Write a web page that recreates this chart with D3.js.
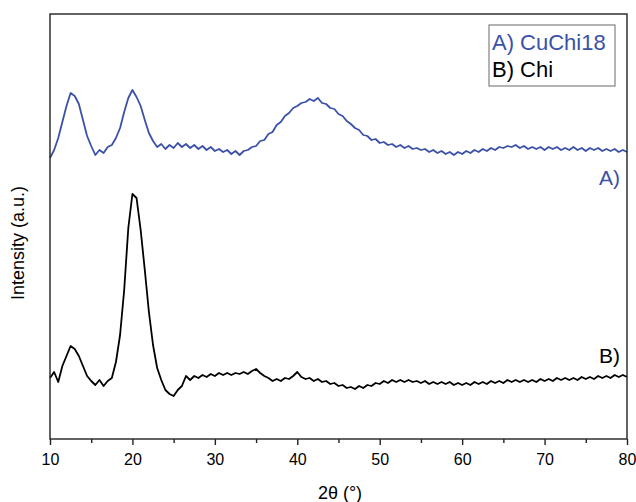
<!DOCTYPE html>
<html>
<head>
<meta charset="utf-8">
<script src="https://cdn.jsdelivr.net/npm/d3@7"></script>
<style>
  body { margin: 0; background: #fff; }
  text { font-family: "Liberation Sans", Arial, sans-serif; }
</style>
</head>
<body>
<div id="chart"></div>
<script>
// 2-theta grid (0.5 deg steps, 10 -> 80)
var twoTheta = d3.range(10, 80.001, 0.5);

// A) CuChi18 intensity (a.u., read off the picture)
var cuChi18 = [281,289,301,317,333,346,343,335,319,303,293,284,289,286,292,294,301,311,327,341,
  349,342,333,319,306,298,292,295,290,294,291,296,292,295,291,294,290,293,289,292,
  288,290,287,289,285,288,284,288,289,292,293,298,299,305,307,314,317,323,326,331,
  333,336,337,340,338,341,336,335,331,330,325,323,318,315,311,309,304,303,299,300,
  296,297,294,295,292,294,291,293,290,291,289,290,287,289,286,288,285,287,284,287,
  285,288,286,289,287,290,288,291,289,292,291,293,292,294,291,293,290,292,290,292,
  289,292,290,292,289,291,289,292,289,291,288,291,289,291,288,290,288,290,287,289,287];

// B) Chi intensity
var chi = [61,67,57,73,83,93,90,83,73,63,58,54,59,53,58,61,77,104,149,211,
  245,241,209,169,127,94,71,59,49,45,43,49,53,63,59,63,61,64,62,65,
  63,66,64,66,64,66,65,67,65,68,70,66,63,61,58,60,58,61,60,63,
  67,62,60,61,58,60,57,58,55,56,53,54,51,52,50,53,51,54,53,56,
  55,58,56,59,57,59,57,59,57,58,56,58,55,57,55,57,55,57,54,56,
  54,56,54,57,55,57,55,58,56,58,56,59,57,59,57,59,57,59,57,60,
  58,60,58,61,59,61,59,61,59,62,60,62,60,63,61,63,61,64,62,64,62];

var xTicks = [10, 20, 30, 40, 50, 60, 70, 80];
var seriesNames = ["A) CuChi18", "B) Chi"];
var seriesTags = ["A)", "B)"];
var colors = ["#3b51a8", "#000000"];

var width = 636, height = 502;
var margin = {top: 14, right: 9, bottom: 63, left: 50};
var plotW = width - margin.left - margin.right,
    plotH = height - margin.top - margin.bottom;

var svg = d3.select("#chart").append("svg")
    .attr("width", width)
    .attr("height", height);

var g = svg.append("g")
    .attr("transform", "translate(" + margin.left + "," + margin.top + ")");

var x = d3.scaleLinear().domain([10, 80]).range([0, plotW]);
var y = d3.scaleLinear().domain([0, 425]).range([plotH, 0]);

// curves
var line = d3.line()
    .x(function(d) { return x(d[0]); })
    .y(function(d) { return y(d[1]); });

[cuChi18, chi].forEach(function(vals, i) {
    var pts = twoTheta.map(function(t, k) { return [t, vals[k]]; });
    g.append("path")
        .datum(pts)
        .attr("fill", "none")
        .attr("stroke", colors[i])
        .attr("stroke-width", 1.8)
        .attr("stroke-linejoin", "round")
        .attr("d", line);
});

// frame
g.append("rect")
    .attr("x", 0).attr("y", 0)
    .attr("width", plotW).attr("height", plotH)
    .attr("fill", "none")
    .attr("stroke", "#222")
    .attr("stroke-width", 1.4);

// x axis, major + minor ticks
var xAxis = g.append("g")
    .attr("transform", "translate(0," + plotH + ")")
    .call(d3.axisBottom(x).tickValues(xTicks).tickSize(6).tickPadding(9).tickFormat(d3.format("d")));
xAxis.select(".domain").remove();
xAxis.selectAll("line").attr("stroke", "#222").attr("stroke-width", 1.4);
xAxis.selectAll("text").attr("font-size", 16).attr("fill", "#000")
    .attr("font-family", "Liberation Sans, Arial, sans-serif");

var minor = g.append("g")
    .attr("transform", "translate(0," + plotH + ")")
    .call(d3.axisBottom(x).tickValues([15, 25, 35, 45, 55, 65, 75]).tickSize(4).tickFormat(""));
minor.select(".domain").remove();
minor.selectAll("line").attr("stroke", "#222").attr("stroke-width", 1.4);

// axis titles
svg.append("text")
    .attr("x", 340).attr("y", 499)
    .attr("text-anchor", "middle")
    .attr("font-size", 18)
    .text("2\u03b8 (\u00b0)");

svg.append("text")
    .attr("transform", "translate(24,243) rotate(-90)")
    .attr("text-anchor", "middle")
    .attr("font-size", 18)
    .text("Intensity (a.u.)");

// curve tags
var tagY = [y(cuChi18[cuChi18.length - 1]) + 33, y(chi[chi.length - 1]) - 14];
seriesTags.forEach(function(t, i) {
    g.append("text")
        .attr("x", x(80) - 7)
        .attr("y", tagY[i])
        .attr("text-anchor", "end")
        .attr("font-size", 21)
        .attr("fill", colors[i])
        .text(t);
});

// legend
var legend = svg.append("g").attr("transform", "translate(489,25)");
legend.append("rect")
    .attr("width", 126).attr("height", 61)
    .attr("fill", "#fff")
    .attr("stroke", "#808080")
    .attr("stroke-width", 1.2);
seriesNames.forEach(function(n, i) {
    legend.append("text")
        .attr("x", 3)
        .attr("y", 25 + i * 27)
        .attr("font-size", 22)
        .attr("fill", colors[i])
        .text(n);
});
</script>
</body>
</html>
